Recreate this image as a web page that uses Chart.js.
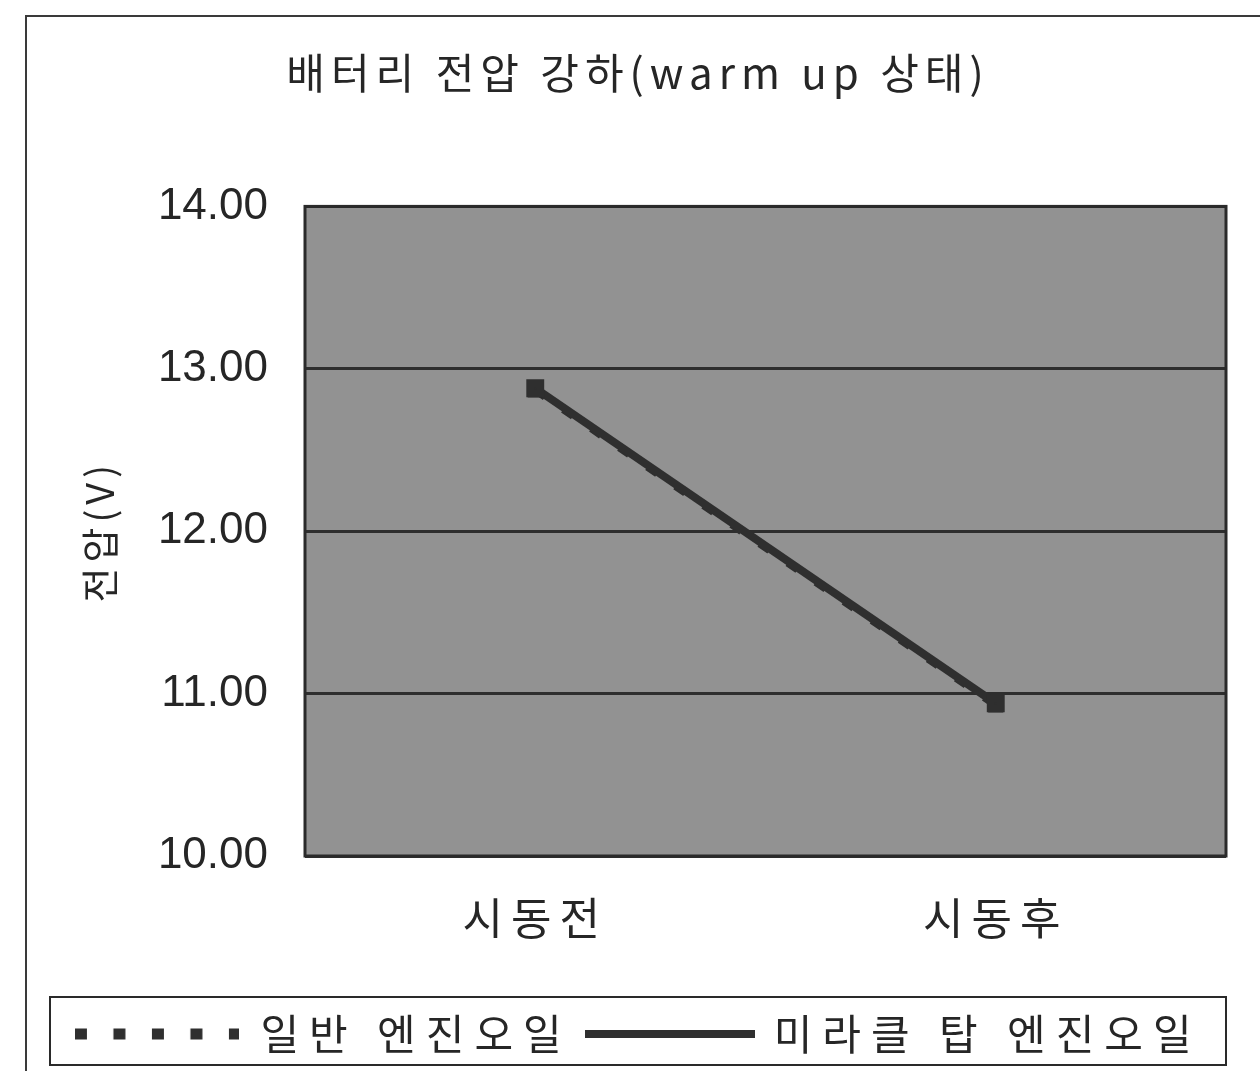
<!DOCTYPE html>
<html>
<head>
<meta charset="utf-8">
<script src="https://cdn.jsdelivr.net/npm/chart.js@4.4.1/dist/chart.umd.min.js"></script>
<style>
    html, body { margin: 0; padding: 0; background: #ffffff; }
    #wrap { position: relative; width: 1260px; height: 1071px; }
    #frame { position: absolute; left: 25px; top: 15px; width: 1240px; height: 1100px; border: 2px solid #3a3a3a; box-sizing: border-box; }
    canvas { position: absolute; left: 0; top: 0; }
</style>
</head>
<body>
<div id="wrap">
    <div id="frame"></div>
    <canvas id="voltage_chart" width="1260" height="1071"></canvas>
</div>
<script>
const categories = ["시동전", "시동후"];
const normalOil = [12.87, 10.93];
const miracleOil = [12.88, 10.94];
const yTicks = [10, 11, 12, 13, 14];

const TEXT = "#262626";
const LINE = "#2f2f2f";

// little canvases used as legend samples (dashed / solid line)
function legendSample(dash, width) {
    const c = document.createElement("canvas");
    c.width = width;
    c.height = 12;
    const g = c.getContext("2d");
    g.strokeStyle = LINE;
    g.lineWidth = dash.length ? 11 : 8;
    g.setLineDash(dash);
    g.beginPath();
    g.moveTo(0, 6);
    g.lineTo(width, 6);
    g.stroke();
    return c;
}
const legendMarks = [legendSample([12, 26.5], 164), legendSample([], 170)];

// wrap a draw/fit method so its text is drawn letter-spaced
function spaced(obj, method, spacing) {
    if (!obj || obj["_sp_" + method]) return;
    const orig = obj[method].bind(obj);
    obj["_sp_" + method] = true;
    obj[method] = function (...args) {
        const ctx = this.ctx;
        const prev = ctx.letterSpacing;
        ctx.letterSpacing = spacing;
        const r = orig(...args);
        ctx.letterSpacing = prev;
        return r;
    };
}

const spacingPlugin = {
    id: "spacingPlugin",
    beforeLayout(chart) {
        spaced(chart.titleBlock, "draw", "6px");
        spaced(chart.legend, "fit", "10px");
        spaced(chart.legend, "draw", "10px");
        spaced(chart.scales.x, "drawLabels", "8px");
        spaced(chart.scales.y, "drawTitle", "5px");
    },
};

// grey plot background and frames around the plot and legend
const boxPlugin = {
    id: "boxPlugin",
    beforeDraw(chart) {
        const { ctx, chartArea } = chart;
        ctx.save();
        ctx.fillStyle = "#929292";
        ctx.fillRect(chartArea.left, chartArea.top, chartArea.width, chartArea.height);
        ctx.restore();
    },
    afterDraw(chart) {
        const { ctx, chartArea, legend } = chart;
        ctx.save();
        ctx.strokeStyle = "#2a2a2a";
        ctx.lineWidth = 3;
        ctx.strokeRect(chartArea.left, chartArea.top, chartArea.width, chartArea.height);
        ctx.lineWidth = 2;
        ctx.strokeRect(legend.left, legend.top, legend.width, legend.height);
        ctx.restore();
    },
};

new Chart(document.getElementById("voltage_chart"), {
    type: "line",
    data: {
        labels: categories,
        datasets: [
            {
                label: "일반 엔진오일",
                data: normalOil,
                borderColor: LINE,
                backgroundColor: LINE,
                borderWidth: 8,
                borderDash: [12, 22],
                pointRadius: 5,
                pointStyle: "rect",
                order: 1,
            },
            {
                label: "미라클 탑 엔진오일",
                data: miracleOil,
                borderColor: LINE,
                backgroundColor: LINE,
                borderWidth: 8,
                pointRadius: 7,
                pointStyle: "rect",
                order: 0,
            },
        ],
    },
    options: {
        responsive: false,
        animation: false,
        layout: { padding: { left: 50, right: 34, top: 20, bottom: 6 } },
        plugins: {
            title: {
                display: true,
                text: "배터리 전압 강하(warm up 상태)",
                color: TEXT,
                font: { family: "'Noto Sans CJK KR', 'Liberation Sans'", size: 42, weight: "normal" },
                padding: { top: 28, bottom: 108 },
            },
            legend: {
                position: "bottom",
                labels: {
                    color: TEXT,
                    font: { family: "'Noto Sans CJK KR'", size: 42 },
                    usePointStyle: true,
                    pointStyleWidth: 165,
                    boxHeight: 42,
                    padding: 16,
                    sort: (a, b) => a.datasetIndex - b.datasetIndex,
                    generateLabels(chart) {
                        const items = Chart.defaults.plugins.legend.labels.generateLabels(chart);
                        items.forEach(it => { it.pointStyle = legendMarks[it.datasetIndex]; });
                        return items;
                    },
                },
            },
            tooltip: { enabled: false },
        },
        scales: {
            x: {
                offset: true,
                afterFit(scale) { scale.height = 141; },
                grid: { display: false, drawTicks: false },
                border: { display: false },
                ticks: {
                    color: TEXT,
                    padding: 36,
                    font: { family: "'Noto Sans CJK KR'", size: 44 },
                },
            },
            y: {
                min: 10,
                max: 14,
                afterFit(scale) { scale.width = 255; },
                afterBuildTicks(scale) { scale.ticks = yTicks.map(v => ({ value: v })); },
                grid: { color: "#2e2e2e", lineWidth: 3, drawTicks: false },
                border: { display: false },
                ticks: {
                    color: TEXT,
                    padding: 37,
                    font: { family: "'Liberation Sans'", size: 44 },
                    callback: v => v.toFixed(2),
                },
                title: {
                    display: true,
                    text: "전압(V)",
                    color: TEXT,
                    font: { family: "'Noto Sans CJK KR'", size: 38 },
                    padding: { top: 27, bottom: 0 },
                },
            },
        },
    },
    plugins: [spacingPlugin, boxPlugin],
});
</script>
</body>
</html>
